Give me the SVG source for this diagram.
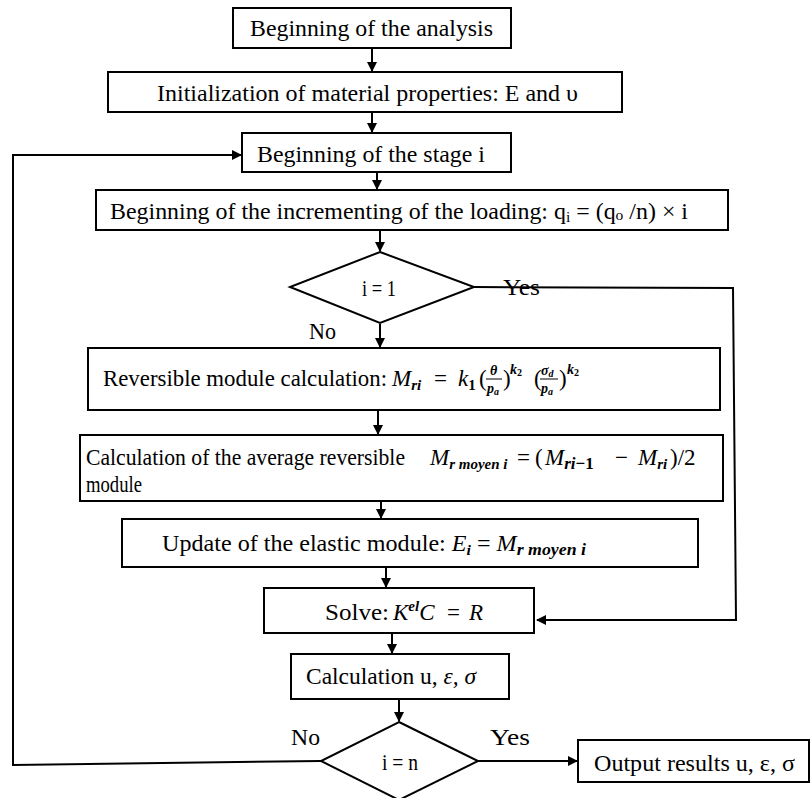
<svg xmlns="http://www.w3.org/2000/svg" width="811" height="798" viewBox="0 0 811 798">
<defs>
<style>
.box{fill:#fff;stroke:#000;stroke-width:2}
.t{font-family:"Liberation Serif","Times New Roman",serif;font-size:23px;fill:#000}
.m{font-family:"Liberation Serif","Times New Roman",serif;font-style:italic;font-size:23px;fill:#000}
.f{font-family:"Liberation Serif","Times New Roman",serif;font-style:italic;font-size:14px;fill:#000}
.s{font-size:15px}
.b{font-weight:bold}
.c{fill:none;stroke:#000;stroke-width:2}
</style>
<marker id="ah" markerWidth="10" markerHeight="10" refX="9" refY="5" orient="auto" markerUnits="userSpaceOnUse">
<path d="M0,0 L10,5 L0,10 z" fill="#000"/>
</marker>
</defs>
<rect width="811" height="798" fill="#fff"/>

<g id="connectors">
<line class="c" x1="372" y1="48" x2="372" y2="71" marker-end="url(#ah)"/>
<line class="c" x1="372" y1="112" x2="372" y2="132" marker-end="url(#ah)"/>
<line class="c" x1="377" y1="172" x2="377" y2="189" marker-end="url(#ah)"/>
<line class="c" x1="380" y1="230" x2="380" y2="251" marker-end="url(#ah)"/>
<line class="c" x1="380" y1="324" x2="380" y2="347" marker-end="url(#ah)"/>
<line class="c" x1="378" y1="410" x2="378" y2="434" marker-end="url(#ah)"/>
<line class="c" x1="381" y1="501" x2="381" y2="518" marker-end="url(#ah)"/>
<line class="c" x1="386" y1="567" x2="386" y2="587" marker-end="url(#ah)"/>
<line class="c" x1="392" y1="633" x2="392" y2="653" marker-end="url(#ah)"/>
<line class="c" x1="399" y1="699" x2="399" y2="721" marker-end="url(#ah)"/>
<polyline class="c" points="474,287 733,288 736,620 537,620" marker-end="url(#ah)"/>
<polyline class="c" points="321,761 13,765 13,155 241,155" marker-end="url(#ah)"/>
<line class="c" x1="478" y1="761" x2="577" y2="761" marker-end="url(#ah)"/>
</g>

<g id="n1">
<rect class="box" x="233" y="8" width="278" height="40"/>
<text class="t" x="250" y="36" textLength="243" lengthAdjust="spacingAndGlyphs">Beginning of the analysis</text>
</g>

<g id="n2">
<rect class="box" x="108" y="72" width="514" height="40"/>
<text class="t" x="157" y="101" textLength="421" lengthAdjust="spacingAndGlyphs">Initialization of material properties: E and υ</text>
</g>

<g id="n3">
<rect class="box" x="242" y="133" width="269" height="39"/>
<text class="t" x="257" y="162" textLength="228" lengthAdjust="spacingAndGlyphs">Beginning of the stage i</text>
</g>

<g id="n4">
<rect class="box" x="96" y="190" width="632" height="40"/>
<text class="t" x="110" y="219" textLength="578" lengthAdjust="spacingAndGlyphs">Beginning of the incrementing of the loading: q<tspan class="s" dy="3">i</tspan><tspan dy="-3"> = (q</tspan><tspan class="s" dy="1">o</tspan><tspan dy="-1"> /n) × i</tspan></text>
</g>

<g id="d1">
<polygon class="box" points="380,252 474,287 380,323 290,287"/>
<text class="t" x="362" y="296" textLength="34" lengthAdjust="spacingAndGlyphs">i = 1</text>
</g>
<text class="t" x="503" y="295" textLength="37" lengthAdjust="spacingAndGlyphs">Yes</text>
<text class="t" x="309" y="339" textLength="27" lengthAdjust="spacingAndGlyphs">No</text>

<g id="n5">
<rect class="box" x="88" y="348" width="632" height="62"/>
<text class="t" x="103" y="386" textLength="284" lengthAdjust="spacingAndGlyphs">Reversible module calculation:</text>
<text class="m" x="392" y="386">M<tspan class="s b" dy="4">ri</tspan></text>
<text class="t" x="434" y="386">=</text>
<text class="m" x="458" y="386">k<tspan class="s b" dy="4" font-style="normal">1</tspan></text>
<text class="t" x="479" y="386">(</text>
<text class="f b" x="490" y="375">θ</text>
<line x1="486" y1="379" x2="502" y2="379" stroke="#000" stroke-width="1"/>
<text class="f b" x="487" y="393">p<tspan font-size="10" dy="2">a</tspan></text>
<text class="t" x="503" y="386">)</text>
<text class="f b" x="510" y="374">k<tspan font-size="10" dy="2" font-style="normal">2</tspan></text>
<text class="t" x="534" y="386">(</text>
<text class="f b" x="541" y="375">σ<tspan font-size="10" dy="2">d</tspan></text>
<line x1="540" y1="379" x2="558" y2="379" stroke="#000" stroke-width="1"/>
<text class="f b" x="541" y="393">p<tspan font-size="10" dy="2">a</tspan></text>
<text class="t" x="559" y="386">)</text>
<text class="f b" x="567" y="374">k<tspan font-size="10" dy="2" font-style="normal">2</tspan></text>
</g>

<g id="n6">
<rect class="box" x="80" y="435" width="643" height="66"/>
<text class="t" x="86" y="465" textLength="319" lengthAdjust="spacingAndGlyphs">Calculation of the average reversible</text>
<text class="t" x="86" y="492" textLength="56" lengthAdjust="spacingAndGlyphs">module</text>
<text class="m" x="430" y="465">M<tspan class="b" font-size="15" dy="4">r moyen i</tspan></text>
<text class="t" x="517" y="465">=</text>
<text class="t" x="535" y="465">(</text>
<text class="m" x="545" y="465">M<tspan class="b" font-size="17" dy="4">ri</tspan><tspan class="b" font-size="17" font-style="normal">−1</tspan></text>
<text class="t" x="615" y="465">−</text>
<text class="m" x="638" y="465">M<tspan class="s b" dy="4">ri</tspan></text>
<text class="t" x="670" y="465">)/2</text>
</g>

<g id="n7">
<rect class="box" x="122" y="519" width="576" height="48"/>
<text class="t" x="162" y="551" textLength="424" lengthAdjust="spacingAndGlyphs">Update of the elastic module: <tspan font-style="italic">E</tspan><tspan class="s b" font-style="italic" dy="4">i</tspan><tspan dy="-4"> = </tspan><tspan font-style="italic">M</tspan><tspan class="b" font-style="italic" font-size="17" dy="4">r moyen i</tspan></text>
</g>

<g id="n8">
<rect class="box" x="264" y="588" width="270" height="45"/>
<text class="t" x="325" y="620" textLength="64" lengthAdjust="spacingAndGlyphs">Solve:</text>
<text class="m" x="393" y="620">K<tspan class="s b" dy="-9">el</tspan><tspan dy="9">C</tspan></text>
<text class="t" x="447" y="620">=</text>
<text class="m" x="469" y="620">R</text>
</g>

<g id="n9">
<rect class="box" x="291" y="654" width="218" height="45"/>
<text class="t" x="306" y="684" textLength="170" lengthAdjust="spacingAndGlyphs">Calculation u, <tspan font-style="italic">ε, σ</tspan></text>
</g>

<g id="d2">
<polygon class="box" points="399,722 478,761 399,800 321,761"/>
<text class="t" x="382" y="770" textLength="36" lengthAdjust="spacingAndGlyphs">i = n</text>
</g>
<text class="t" x="291" y="745" textLength="29" lengthAdjust="spacingAndGlyphs">No</text>
<text class="t" x="490" y="745" textLength="40" lengthAdjust="spacingAndGlyphs">Yes</text>

<g id="n10">
<rect class="box" x="578" y="740" width="231" height="42"/>
<text class="t" x="594" y="771" textLength="201" lengthAdjust="spacingAndGlyphs">Output results  u, ε, σ</text>
</g>
</svg>
